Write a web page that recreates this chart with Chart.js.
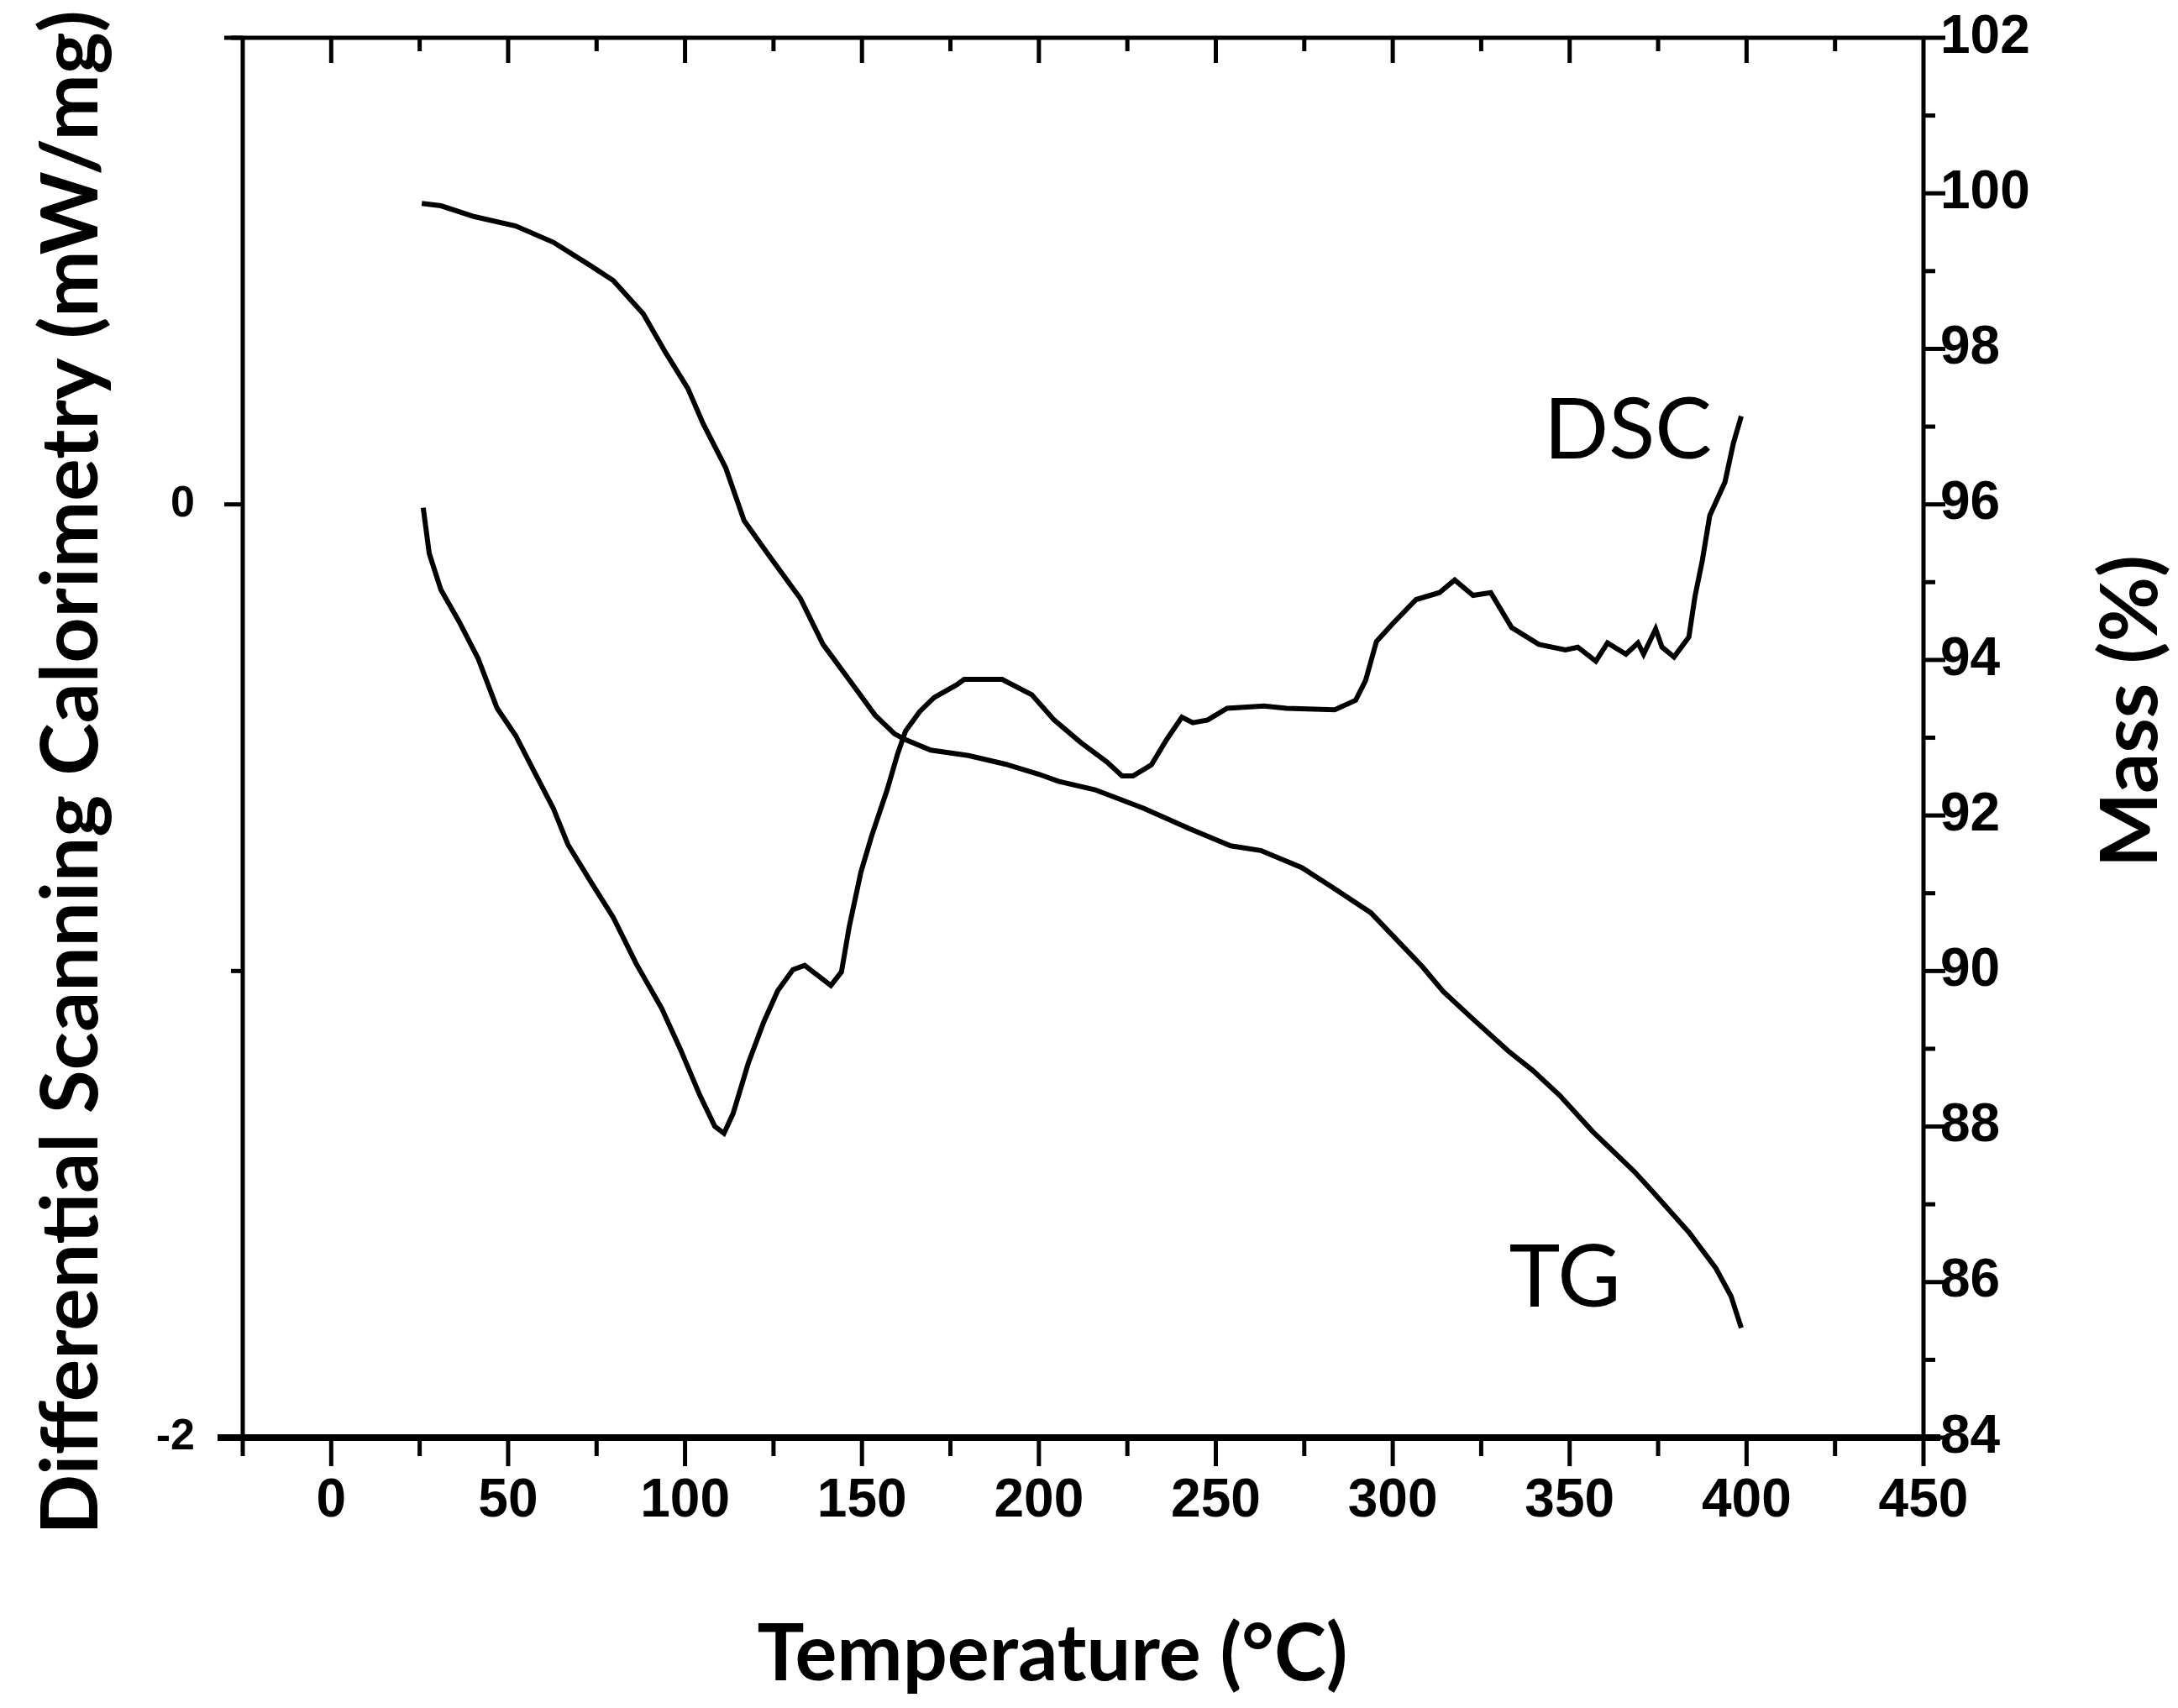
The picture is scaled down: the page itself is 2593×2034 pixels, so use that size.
<!DOCTYPE html>
<html>
<head>
<meta charset="utf-8">
<title>DSC / TG</title>
<script src="https://cdn.jsdelivr.net/npm/chart.js@4.4.0/dist/chart.umd.min.js"></script>
<style>
  html, body { margin: 0; padding: 0; background: #fff; }
  canvas { display: block; }
</style>
</head>
<body>
<canvas id="chart" width="2593" height="2034"></canvas>
<script>
// DSC curve (temperature in °C, heat flow in mW/mg)
const dscTemp = [26, 27.7, 31, 36.2, 41.5, 46.9, 52.1, 57.4, 62.8, 66.9, 73.3, 79.7, 86.1, 93.4, 98.7,
    104.1, 108.4, 111, 113.6, 117.9, 122.2, 126.2, 130.5, 133.8, 141.2, 144.2, 146.4, 149.7, 152.8,
    157.1, 160.1, 162.3, 166.3, 170.4, 176.7, 178.9, 189.6, 198, 204.3, 211.8, 219.2, 223.5, 226.6,
    231.8, 236.1, 240.4, 243.5, 247.7, 253.2, 263.6, 270, 283.6, 289.5, 292.3, 295.4, 299.7, 306.6,
    313.2, 317.5, 322.7, 327.7, 333.6, 341.3, 348.8, 352.3, 357.4, 360.7, 365.9, 369.3, 370.9, 374.3,
    376.1, 379.5, 383.7, 385.4, 387.5, 389.6, 393.9, 396.3, 398.5];
const dscValue = [-0.007, -0.105, -0.183, -0.252, -0.33, -0.437, -0.495, -0.573, -0.652, -0.729, -0.808,
    -0.885, -0.983, -1.08, -1.168, -1.265, -1.333, -1.348, -1.305, -1.197, -1.11, -1.042, -0.997,
    -0.988, -1.031, -1.002, -0.905, -0.788, -0.709, -0.612, -0.534, -0.486, -0.444, -0.414, -0.387,
    -0.375, -0.375, -0.408, -0.462, -0.51, -0.552, -0.582, -0.582, -0.558, -0.504, -0.456, -0.468,
    -0.462, -0.437, -0.432, -0.437, -0.44, -0.42, -0.378, -0.294, -0.258, -0.204, -0.189, -0.162,
    -0.195, -0.189, -0.264, -0.3, -0.312, -0.306, -0.336, -0.297, -0.321, -0.297, -0.321, -0.267,
    -0.306, -0.327, -0.284, -0.198, -0.12, -0.024, 0.048, 0.132, 0.189];

// TG curve (mass %)
const tgTemp = [25.6, 31, 40.5, 52.1, 62.8, 73.3, 79.7, 88.2, 94.4, 100.8, 105.1, 111.5, 116.7, 124.1,
    132.6, 139, 147.6, 153.7, 159.2, 162, 169.4, 180.1, 190.5, 200, 205.5, 215.9, 229.7, 242.5, 254.2,
    262.7, 274.3, 282.8, 293.8, 299.7, 308.3, 314.2, 322.5, 332.7, 339.6, 347.2, 356.4, 368.3, 373.5,
    383.7, 391.3, 395.6, 398.5];
const tgMass = [99.87, 99.84, 99.70, 99.58, 99.37, 99.07, 98.88, 98.45, 97.96, 97.49, 97.04, 96.47,
    95.79, 95.32, 94.79, 94.2, 93.67, 93.29, 93.05, 92.98, 92.84, 92.77, 92.66, 92.53, 92.44, 92.33,
    92.09, 91.83, 91.61, 91.55, 91.33, 91.08, 90.75, 90.47, 90.06, 89.74, 89.39, 88.97, 88.72, 88.40,
    87.94, 87.42, 87.16, 86.64, 86.18, 85.82, 85.41];

// Tick values
const tempTicks = [0, 50, 100, 150, 200, 250, 300, 350, 400, 450];
const tempMinorTicks = [-25, 25, 75, 125, 175, 225, 275, 325, 375, 425];
const dscTicks = [-2, 0];
const dscMinorTicks = [-1, 1];
const massTicks = [84, 86, 88, 90, 92, 94, 96, 98, 100, 102];
const massMinorTicks = [85, 87, 89, 91, 93, 95, 97, 99, 101];

// Texts
const xTitle = 'Temperature (°C)';
const dscTitle = 'Differential Scanning Calorimetry (mW/mg)';
const massTitle = 'Mass (%)';
const dscLabel = 'DSC';
const tgLabel = 'TG';

const tickFont = '"Liberation Sans Narrow", "Arial Narrow", "Liberation Sans", sans-serif';
const titleFont = 'Lato, "Open Sans", sans-serif';

// Pick a font size so that the text spans the given width
function fitFont(ctx, text, weight, width) {
    ctx.font = `${weight} 100px ${titleFont}`;
    const size = 100 * width / ctx.measureText(text).width;
    return `${weight} ${size.toFixed(1)}px ${titleFont}`;
}

// Tick marks along a horizontal edge
function hTicks(ctx, scale, values, y, len) {
    values.forEach(v => {
        const x = scale.getPixelForValue(v);
        ctx.beginPath();
        ctx.moveTo(x, y);
        ctx.lineTo(x, y + len);
        ctx.stroke();
    });
}

// Tick marks along a vertical edge
function vTicks(ctx, scale, values, x, len) {
    values.forEach(v => {
        const y = scale.getPixelForValue(v);
        ctx.beginPath();
        ctx.moveTo(x, y);
        ctx.lineTo(x + len, y);
        ctx.stroke();
    });
}

// Keep the plot box where the figure has it (no extra room for edge labels)
function fixWidth(w) {
    return s => {
        s.width = w;
        s.paddingTop = 0;
        s.paddingBottom = 0;
    };
}

const framePlugin = {
    id: 'frame',
    afterDatasetsDraw(chart) {
        const { ctx, chartArea: a, scales } = chart;
        ctx.save();
        ctx.strokeStyle = '#000';
        ctx.lineCap = 'butt';

        // box
        ctx.lineWidth = 5;
        ctx.beginPath();
        ctx.moveTo(a.left - 22, a.top);
        ctx.lineTo(a.right, a.top);
        ctx.moveTo(a.left, a.top);
        ctx.lineTo(a.left, a.bottom);
        ctx.moveTo(a.right, a.top);
        ctx.lineTo(a.right, a.bottom);
        ctx.stroke();
        ctx.lineWidth = 8;
        ctx.beginPath();
        ctx.moveTo(a.left - 30, a.bottom);
        ctx.lineTo(a.right + 20, a.bottom);
        ctx.stroke();

        // ticks
        ctx.lineWidth = 5;
        hTicks(ctx, scales.x, tempTicks, a.bottom, 34);
        hTicks(ctx, scales.x, tempMinorTicks, a.bottom, 22);
        hTicks(ctx, scales.x, tempTicks.slice(0, -1), a.top, 30);
        hTicks(ctx, scales.x, tempMinorTicks.slice(1), a.top, 16);
        vTicks(ctx, scales.y, dscTicks, a.left, -22);
        vTicks(ctx, scales.y, dscMinorTicks, a.left, -14);
        vTicks(ctx, scales.y2, massTicks, a.right, 26);
        vTicks(ctx, scales.y2, massMinorTicks, a.right, 14);
        ctx.restore();
    },
    afterDraw(chart) {
        const { ctx } = chart;
        ctx.save();
        ctx.fillStyle = '#000';
        ctx.textAlign = 'center';
        ctx.textBaseline = 'alphabetic';

        // axis titles
        ctx.font = fitFont(ctx, xTitle, 'bold', 703);
        ctx.fillText(xTitle, 1253, 2001);

        ctx.save();
        ctx.translate(116, 920);
        ctx.rotate(-Math.PI / 2);
        ctx.font = fitFont(ctx, dscTitle, 'bold', 1815);
        ctx.fillText(dscTitle, 0, 0);
        ctx.restore();

        ctx.save();
        ctx.translate(2568, 847);
        ctx.rotate(-Math.PI / 2);
        ctx.font = fitFont(ctx, massTitle, 'bold', 372);
        ctx.fillText(massTitle, 0, 0);
        ctx.restore();

        // curve labels
        ctx.font = fitFont(ctx, dscLabel, 'normal', 200);
        ctx.fillText(dscLabel, 1938, 546);
        ctx.font = fitFont(ctx, tgLabel, 'normal', 133);
        ctx.fillText(tgLabel, 1863, 1556);
        ctx.restore();
    }
};

function toPoints(xs, ys) {
    return xs.map((x, i) => ({ x: x, y: ys[i] }));
}

const lineStyle = {
    borderColor: '#000',
    borderWidth: 6,
    pointRadius: 0,
    tension: 0,
    fill: false
};

new Chart(document.getElementById('chart'), {
    type: 'line',
    data: {
        datasets: [
            { label: 'DSC', data: toPoints(dscTemp, dscValue), yAxisID: 'y', ...lineStyle },
            { label: 'TG', data: toPoints(tgTemp, tgMass), yAxisID: 'y2', ...lineStyle }
        ]
    },
    options: {
        responsive: false,
        animation: false,
        devicePixelRatio: 1,
        layout: { padding: { top: 45, left: 0, right: 0, bottom: 0 } },
        plugins: {
            legend: { display: false },
            tooltip: { enabled: false }
        },
        scales: {
            x: {
                type: 'linear',
                min: -25,
                max: 450,
                grid: { display: false, drawTicks: false },
                border: { display: false },
                afterBuildTicks: s => { s.ticks = tempTicks.map(v => ({ value: v })); },
                afterFit: s => { s.height = 322; s.paddingLeft = 0; s.paddingRight = 0; },
                ticks: {
                    color: '#000',
                    padding: 38,
                    autoSkip: false,
                    maxRotation: 0,
                    font: { family: tickFont, size: 64, weight: 'bold' }
                }
            },
            y: {
                position: 'left',
                min: -2,
                max: 1,
                grid: { display: false, drawTicks: false },
                border: { display: false },
                afterBuildTicks: s => { s.ticks = dscTicks.map(v => ({ value: v })); },
                afterFit: fixWidth(289),
                ticks: {
                    color: '#000',
                    padding: 57,
                    font: { family: tickFont, size: 52, weight: 'bold' }
                }
            },
            y2: {
                position: 'right',
                min: 84,
                max: 102,
                grid: { display: false, drawTicks: false },
                border: { display: false },
                afterBuildTicks: s => { s.ticks = massTicks.map(v => ({ value: v })); },
                afterFit: fixWidth(303),
                ticks: {
                    color: '#000',
                    padding: 20,
                    font: { family: tickFont, size: 64, weight: 'bold' }
                }
            }
        }
    },
    plugins: [framePlugin]
});
</script>
</body>
</html>
